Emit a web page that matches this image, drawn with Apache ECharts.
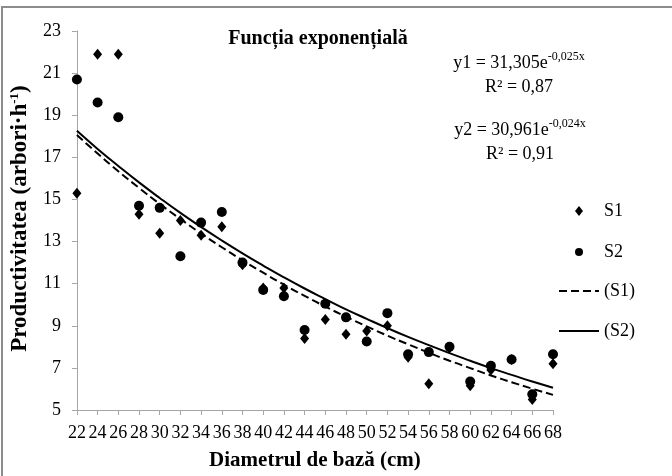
<!DOCTYPE html>
<html>
<head>
<meta charset="utf-8">
<script src="https://cdn.jsdelivr.net/npm/echarts@6/dist/echarts.min.js"></script>
<style>
  html, body { margin: 0; padding: 0; background: #fff; }
  #chart { width: 672px; height: 476px; }
</style>
</head>
<body>
<div id="chart"></div>
<script>
// diametrul de baza (cm)
var diam = [22, 24, 26, 28, 30, 32, 34, 36, 38, 40, 42, 44, 46, 48, 50, 52, 54, 56, 58, 60, 62, 64, 66, 68];
// productivitatea S1 / S2 (arbori/h)
var s1 = [15.3, 21.9, 21.9, 14.3, 13.4, 14.0, 13.3, 13.7, 11.9, 10.8, 10.8, 8.4, 9.3, 8.6, 8.75, 9.0, 7.5, 6.25, 7.95, 6.15, 6.9, 7.4, 5.5, 7.2];
var s2 = [20.7, 19.6, 18.9, 14.7, 14.6, 12.3, 13.9, 14.4, 12.0, 10.7, 10.4, 8.8, 10.05, 9.4, 8.25, 9.6, 7.65, 7.75, 8.0, 6.35, 7.1, 7.4, 5.75, 7.65];
// curbele de tendinta (S1), (S2)
var t1 = [18.06, 17.18, 16.34, 15.55, 14.79, 14.07, 13.38, 12.73, 12.11, 11.52, 10.95, 10.42, 9.91, 9.43, 8.97, 8.53, 8.12, 7.72, 7.34, 6.99, 6.64, 6.32, 6.01, 5.72];
var t2 = [18.26, 17.40, 16.59, 15.81, 15.07, 14.36, 13.69, 13.05, 12.44, 11.86, 11.30, 10.77, 10.27, 9.78, 9.33, 8.89, 8.47, 8.08, 7.70, 7.34, 6.99, 6.67, 6.35, 6.06];

var font = "Liberation Serif";

function pairs(xs, ys) {
  return xs.map(function (x, i) { return [x, ys[i]]; });
}

var eqRich = {
  m: { fontFamily: font, fontSize: 18, fontWeight: "normal", color: "#000", lineHeight: 24 },
  s: { fontFamily: font, fontSize: 12, fontWeight: "normal", color: "#000", lineHeight: 12, verticalAlign: "top" }
};

var chart = echarts.init(document.getElementById("chart"));
chart.setOption({
  backgroundColor: "#fff",
  animation: false,
  title: [
    {
      text: "Funcția exponențială",
      left: 318, top: 29, textAlign: "center", padding: 0,
      textStyle: { fontFamily: font, fontSize: 20, fontWeight: "bold", color: "#000" }
    },
    {
      text: "{m|y1 = 31,305e}{s|-0,025x}\n{m|R² = 0,87}",
      left: 519, top: 51, textAlign: "center", padding: 0,
      textStyle: { fontWeight: "normal", rich: eqRich }
    },
    {
      text: "{m|y2 = 30,961e}{s|-0,024x}\n{m|R² = 0,91}",
      left: 520, top: 118, textAlign: "center", padding: 0,
      textStyle: { fontWeight: "normal", rich: eqRich }
    }
  ],
  legend: [
    {
      data: ["S1", "S2"],
      orient: "vertical",
      left: 570, top: 196,
      itemWidth: 8, itemHeight: 10, itemGap: 21,
      itemStyle: { opacity: 1 },
      textStyle: { fontFamily: font, fontSize: 18, color: "#000", lineHeight: 20, padding: [0, 0, 0, 16] }
    },
    {
      data: ["(S1)", "(S2)"],
      orient: "vertical",
      left: 553, top: 276,
      itemWidth: 40, itemHeight: 10, itemGap: 20,
      itemStyle: { opacity: 0 },
      textStyle: { fontFamily: font, fontSize: 18, color: "#000", lineHeight: 20 }
    }
  ],
  grid: { left: 72, right: 119, top: 31, bottom: 63 },
  xAxis: {
    type: "value", min: 22, max: 68, interval: 2,
    name: "Diametrul de bază (cm)",
    nameLocation: "middle", nameGap: 40,
    nameTextStyle: { fontFamily: font, fontSize: 21, fontWeight: "bold", color: "#000" },
    axisLine: { lineStyle: { color: "#a6a6a6" } },
    axisTick: { length: 5, lineStyle: { color: "#a6a6a6" } },
    axisLabel: { fontFamily: font, fontSize: 18, color: "#000", margin: 14 },
    splitLine: { show: false }
  },
  yAxis: {
    type: "value", min: 5, max: 23, interval: 2,
    name: "{b|Productivitatea (arbori·h}{s|-1}{b|)}",
    nameLocation: "middle", nameGap: 43,
    nameTextStyle: {
      padding: [0, 0, 0, 4],
      rich: {
        b: { fontFamily: font, fontSize: 23, fontWeight: "bold", color: "#000", lineHeight: 25 },
        s: { fontFamily: font, fontSize: 13, fontWeight: "bold", color: "#000", lineHeight: 13, verticalAlign: "top" }
      }
    },
    axisLine: { show: true, lineStyle: { color: "#a6a6a6" } },
    axisTick: { show: true, length: 5, lineStyle: { color: "#a6a6a6" } },
    axisLabel: { fontFamily: font, fontSize: 18, color: "#000", margin: 16 },
    splitLine: { show: false }
  },
  graphic: [
    {
      type: "rect", silent: true, z: 100,
      shape: { x: 2, y: 7, width: 720, height: 520 },
      style: { fill: "none", stroke: "#8c8c8c", lineWidth: 2 }
    }
  ],
  series: [
    {
      name: "(S1)", type: "line", data: pairs(diam, t1),
      smooth: true, symbol: "none",
      lineStyle: { color: "#000", width: 2, type: [8, 4] },
      itemStyle: { color: "#000" }
    },
    {
      name: "(S2)", type: "line", data: pairs(diam, t2),
      smooth: true, symbol: "none",
      lineStyle: { color: "#000", width: 2 },
      itemStyle: { color: "#000" }
    },
    {
      name: "S1", type: "scatter", data: pairs(diam, s1),
      symbol: "diamond", symbolSize: [9, 11],
      itemStyle: { color: "#000", opacity: 1 }
    },
    {
      name: "S2", type: "scatter", data: pairs(diam, s2),
      symbol: "circle", symbolSize: 10,
      itemStyle: { color: "#000", opacity: 1 }
    }
  ]
});
</script>
</body>
</html>
